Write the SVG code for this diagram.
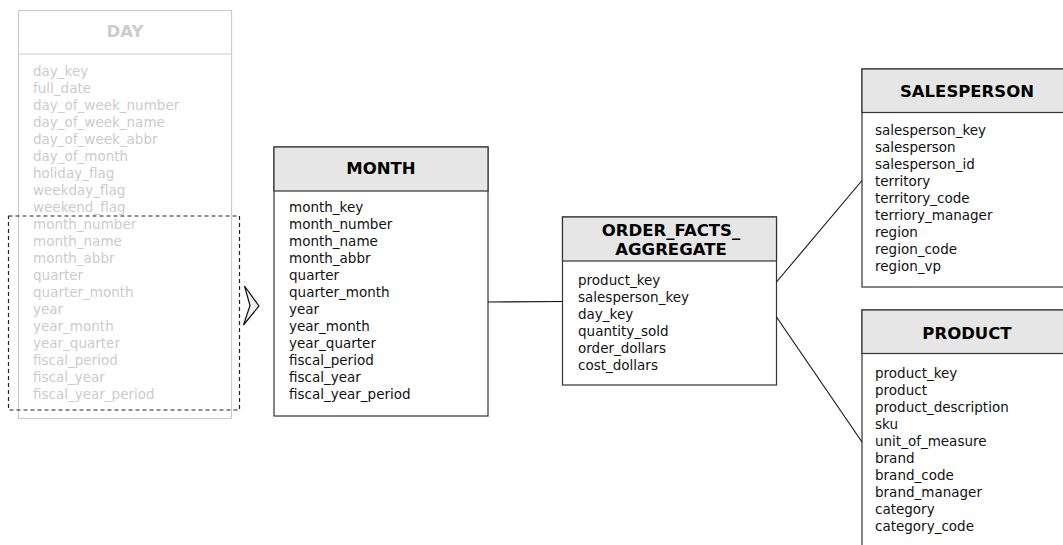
<svg xmlns="http://www.w3.org/2000/svg" width="1063" height="545" viewBox="0 0 1063 545">
  <style>
    .box { fill: #ffffff; stroke: #333333; stroke-width: 1.2; }
    .head { fill: #e6e6e6; stroke: #333333; stroke-width: 1.2; }
    .title { font-family: "DejaVu Sans", sans-serif; font-size: 16.5px; font-weight: bold; fill: #000000; text-anchor: middle; }
    .field { font-family: "DejaVu Sans", sans-serif; font-size: 13.5px; fill: #111111; }
    .ghost .box, .ghost .head { fill: #ffffff; stroke: #cccccc; }
    .ghost .title, .ghost .field { fill: #cccccc; }
    .conn { fill: none; stroke: #111111; stroke-width: 1.1; }
  </style>

  <!-- Day dimension (rolled up, shown faded) -->
  <g id="day" class="ghost">
    <rect class="box" x="18.5" y="10.5" width="213" height="408"/>
    <line x1="18.5" y1="54" x2="231.5" y2="54" stroke="#cccccc" stroke-width="1.2"/>
    <text class="title" x="125" y="37">DAY</text>
    <text class="field" x="33" y="76">day_key</text>
    <text class="field" x="33" y="93">full_date</text>
    <text class="field" x="33" y="110">day_of_week_number</text>
    <text class="field" x="33" y="127">day_of_week_name</text>
    <text class="field" x="33" y="144">day_of_week_abbr</text>
    <text class="field" x="33" y="161">day_of_month</text>
    <text class="field" x="33" y="178">holiday_flag</text>
    <text class="field" x="33" y="195">weekday_flag</text>
    <text class="field" x="33" y="212">weekend_flag</text>
    <text class="field" x="33" y="229">month_number</text>
    <text class="field" x="33" y="246">month_name</text>
    <text class="field" x="33" y="263">month_abbr</text>
    <text class="field" x="33" y="280">quarter</text>
    <text class="field" x="33" y="297">quarter_month</text>
    <text class="field" x="33" y="314">year</text>
    <text class="field" x="33" y="331">year_month</text>
    <text class="field" x="33" y="348">year_quarter</text>
    <text class="field" x="33" y="365">fiscal_period</text>
    <text class="field" x="33" y="382">fiscal_year</text>
    <text class="field" x="33" y="399">fiscal_year_period</text>
  </g>

  <!-- Month-level attributes selected for the roll-up -->
  <g id="month-selection">
    <rect x="8.5" y="216" width="231" height="194" fill="none" stroke="#222222" stroke-width="1.2" stroke-dasharray="4,3"/>
    <path d="M244.5,286 L259,306 L243.5,325 L250,305.5 Z" fill="#eeeeee" stroke="#111111" stroke-width="1.2" stroke-linejoin="miter"/>
  </g>

  <!-- Month dimension -->
  <g id="month">
    <rect class="box" x="274" y="147" width="214" height="269"/>
    <rect class="head" x="274" y="147" width="214" height="44"/>
    <text class="title" x="381" y="174">MONTH</text>
    <text class="field" x="289" y="212">month_key</text>
    <text class="field" x="289" y="229">month_number</text>
    <text class="field" x="289" y="246">month_name</text>
    <text class="field" x="289" y="263">month_abbr</text>
    <text class="field" x="289" y="280">quarter</text>
    <text class="field" x="289" y="297">quarter_month</text>
    <text class="field" x="289" y="314">year</text>
    <text class="field" x="289" y="331">year_month</text>
    <text class="field" x="289" y="348">year_quarter</text>
    <text class="field" x="289" y="365">fiscal_period</text>
    <text class="field" x="289" y="382">fiscal_year</text>
    <text class="field" x="289" y="399">fiscal_year_period</text>
  </g>

  <!-- Aggregate fact table -->
  <g id="order-facts-aggregate">
    <rect class="box" x="562.5" y="217" width="214" height="168"/>
    <rect class="head" x="562.5" y="217" width="214" height="44"/>
    <text class="title" x="671" y="236">ORDER_FACTS_</text>
    <text class="title" x="671" y="254.5">AGGREGATE</text>
    <text class="field" x="578" y="285">product_key</text>
    <text class="field" x="578" y="302">salesperson_key</text>
    <text class="field" x="578" y="319">day_key</text>
    <text class="field" x="578" y="336">quantity_sold</text>
    <text class="field" x="578" y="353">order_dollars</text>
    <text class="field" x="578" y="370">cost_dollars</text>
  </g>

  <!-- Salesperson dimension -->
  <g id="salesperson">
    <rect class="box" x="862" y="69" width="210" height="218"/>
    <rect class="head" x="862" y="69" width="210" height="43.5"/>
    <text class="title" x="967" y="97">SALESPERSON</text>
    <text class="field" x="875" y="135">salesperson_key</text>
    <text class="field" x="875" y="152">salesperson</text>
    <text class="field" x="875" y="169">salesperson_id</text>
    <text class="field" x="875" y="186">territory</text>
    <text class="field" x="875" y="203">territory_code</text>
    <text class="field" x="875" y="220">terriory_manager</text>
    <text class="field" x="875" y="237">region</text>
    <text class="field" x="875" y="254">region_code</text>
    <text class="field" x="875" y="271">region_vp</text>
  </g>

  <!-- Product dimension -->
  <g id="product">
    <rect class="box" x="862" y="310" width="210" height="250"/>
    <rect class="head" x="862" y="310" width="210" height="43.5"/>
    <text class="title" x="967" y="339">PRODUCT</text>
    <text class="field" x="875" y="378">product_key</text>
    <text class="field" x="875" y="395">product</text>
    <text class="field" x="875" y="412">product_description</text>
    <text class="field" x="875" y="429">sku</text>
    <text class="field" x="875" y="446">unit_of_measure</text>
    <text class="field" x="875" y="463">brand</text>
    <text class="field" x="875" y="480">brand_code</text>
    <text class="field" x="875" y="497">brand_manager</text>
    <text class="field" x="875" y="514">category</text>
    <text class="field" x="875" y="531">category_code</text>
  </g>

  <!-- Relationships -->
  <g id="connectors">
    <line class="conn" x1="488" y1="302" x2="562.5" y2="301.5"/>
    <line class="conn" x1="776.5" y1="282" x2="862" y2="180.5"/>
    <line class="conn" x1="776.5" y1="317" x2="862" y2="442"/>
  </g>
</svg>
